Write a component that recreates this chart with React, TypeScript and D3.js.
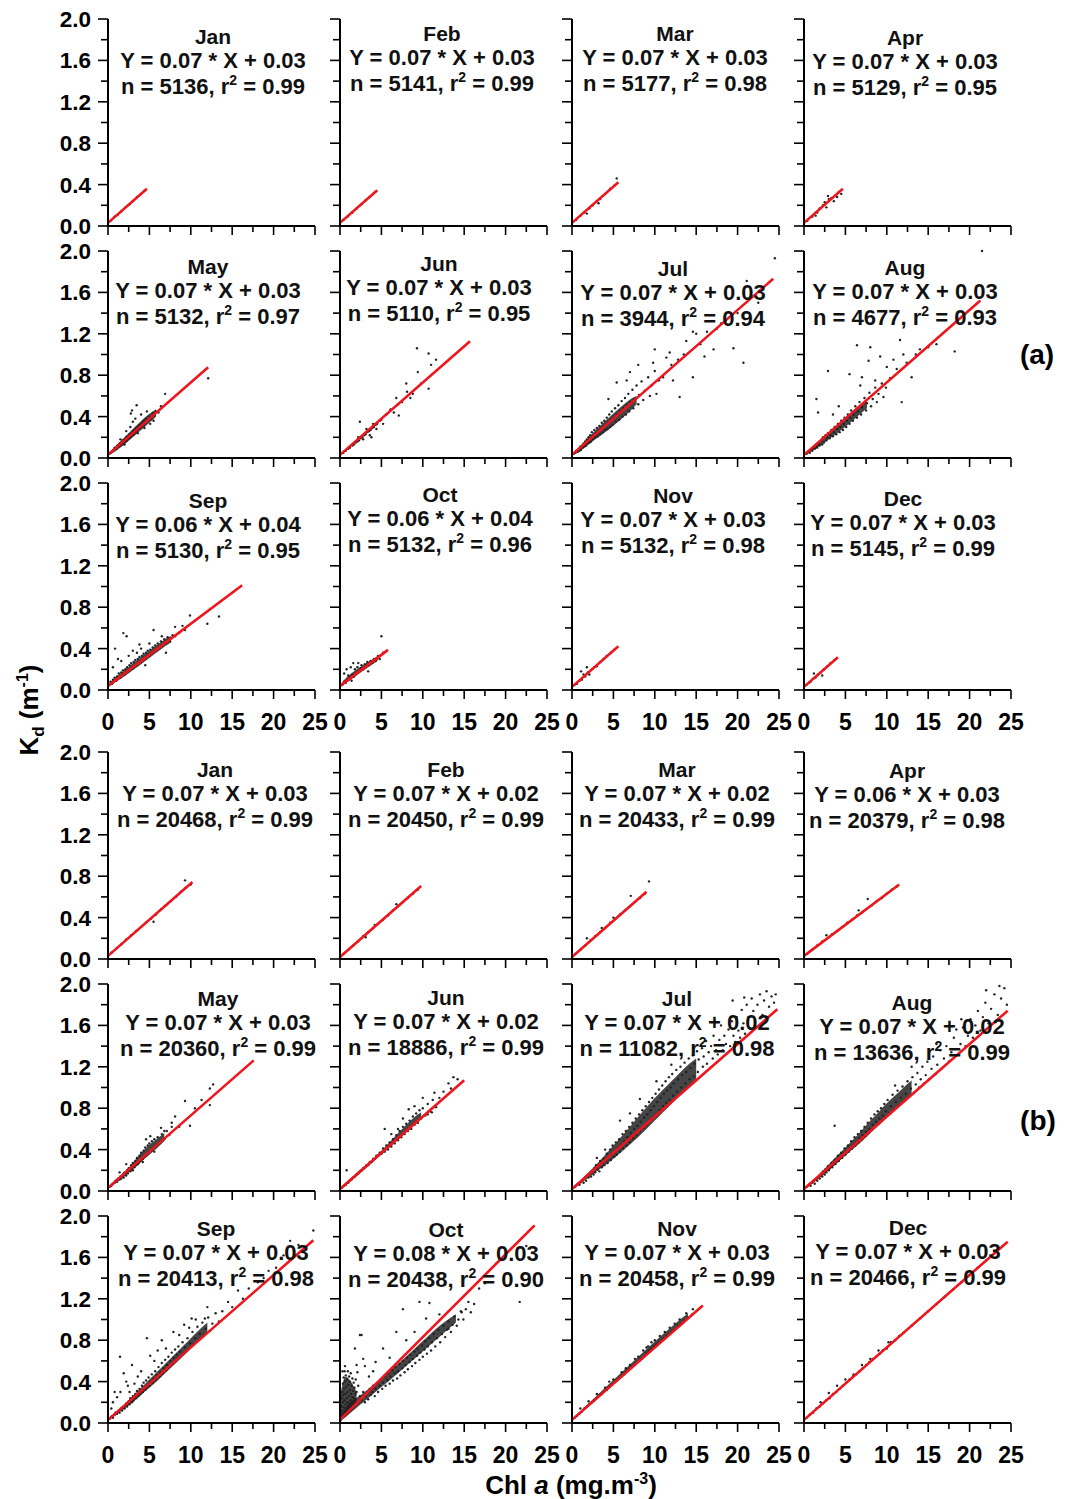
import React from "react";
import * as d3 from "d3";

// ---- regression summaries (group a: upper block, group b: lower block) ----
const months = ["Jan", "Feb", "Mar", "Apr", "May", "Jun", "Jul", "Aug", "Sep", "Oct", "Nov", "Dec"];

const slopeA = [0.07, 0.07, 0.07, 0.07, 0.07, 0.07, 0.07, 0.07, 0.06, 0.06, 0.07, 0.07];
const interceptA = [0.03, 0.03, 0.03, 0.03, 0.03, 0.03, 0.03, 0.03, 0.04, 0.04, 0.03, 0.03];
const countA = [5136, 5141, 5177, 5129, 5132, 5110, 3944, 4677, 5130, 5132, 5132, 5145];
const r2A = ["0.99", "0.99", "0.98", "0.95", "0.97", "0.95", "0.94", "0.93", "0.95", "0.96", "0.98", "0.99"];
const xMaxA = [4.7, 4.5, 5.6, 4.7, 12.1, 15.7, 24.3, 21.3, 16.2, 5.8, 5.6, 4.1];

const slopeB = [0.07, 0.07, 0.07, 0.06, 0.07, 0.07, 0.07, 0.07, 0.07, 0.08, 0.07, 0.07];
const interceptB = [0.03, 0.02, 0.02, 0.03, 0.03, 0.02, 0.02, 0.02, 0.03, 0.03, 0.03, 0.03];
const countB = [20468, 20450, 20433, 20379, 20360, 18886, 11082, 13636, 20413, 20438, 20458, 20466];
const r2B = ["0.99", "0.99", "0.99", "0.98", "0.99", "0.99", "0.98", "0.99", "0.98", "0.90", "0.99", "0.99"];
const xMaxB = [10.2, 9.8, 9.0, 11.5, 17.6, 15.0, 24.8, 24.6, 24.8, 23.5, 15.8, 24.6];

const xTicks = [0, 5, 10, 15, 20, 25];
const yTicks = [0, 0.4, 0.8, 1.2, 1.6, 2.0];

// ---- scatter points [Chl a, Kd] ----
const aJan = [[0.3,0.05],[0.8,0.09],[1.2,0.11],[1.6,0.14],[2.1,0.18],[2.6,0.21],[3.0,0.24],[3.5,0.28],[4.0,0.31],[4.4,0.34]];
const aFeb = [[0.4,0.06],[0.9,0.09],[1.5,0.13],[2.0,0.17],[2.6,0.21],[3.1,0.25],[3.6,0.28],[4.1,0.32]];
const aMar = [[0.5,0.06],[1.0,0.1],[1.5,0.13],[2.1,0.17],[2.5,0.2],[3.0,0.24],[3.4,0.26],[4.0,0.31],[4.6,0.36],[5.1,0.39],[5.4,0.46],[3.2,0.22],[1.8,0.12]];
const aApr = [[0.4,0.05],[1.0,0.09],[1.4,0.1],[1.9,0.17],[2.3,0.2],[2.7,0.18],[3.0,0.26],[3.3,0.27],[3.6,0.24],[2.9,0.29],[4.2,0.33],[4.5,0.31],[1.6,0.13],[2.5,0.23],[4.0,0.28]];
const aMay = [[0.3,0.05],[0.6,0.07],[0.8,0.1],[1.0,0.09],[1.1,0.12],[1.3,0.11],[1.4,0.14],[1.5,0.12],[1.6,0.15],[1.7,0.13],[1.8,0.17],[1.9,0.14],[2.0,0.18],[2.1,0.16],[2.2,0.2],[2.3,0.17],[2.4,0.21],[2.5,0.19],[2.6,0.23],[2.7,0.2],[2.8,0.24],[2.9,0.22],[3.0,0.26],[3.1,0.23],[3.2,0.27],[3.3,0.25],[3.4,0.29],[3.5,0.26],[3.6,0.3],[3.7,0.28],[3.8,0.32],[3.9,0.29],[4.0,0.33],[4.1,0.31],[4.2,0.35],[4.3,0.32],[4.4,0.36],[4.5,0.34],[4.6,0.38],[4.8,0.36],[5.0,0.4],[5.2,0.38],[5.4,0.43],[5.6,0.41],[5.8,0.45],[6.1,0.44],[1.5,0.18],[2.2,0.26],[2.7,0.3],[3.0,0.35],[3.46,0.51],[2.76,0.43],[2.9,0.46],[4.7,0.45],[5.5,0.36],[5.1,0.33],[6.9,0.62],[12.1,0.77],[3.3,0.38],[4.0,0.42],[6.4,0.5],[2.0,0.13],[3.6,0.24],[4.4,0.29]];
const aJun = [[0.4,0.05],[0.7,0.07],[1.0,0.09],[1.2,0.1],[1.5,0.12],[1.7,0.13],[1.9,0.15],[2.1,0.16],[2.3,0.17],[2.5,0.19],[2.7,0.2],[2.9,0.22],[3.1,0.23],[3.3,0.25],[3.5,0.26],[3.7,0.27],[3.9,0.29],[4.1,0.3],[4.3,0.32],[4.5,0.33],[4.8,0.36],[5.0,0.37],[2.2,0.2],[2.8,0.18],[3.2,0.28],[3.6,0.22],[4.0,0.33],[4.4,0.28],[2.4,0.35],[5.2,0.33],[5.6,0.42],[6.1,0.47],[6.5,0.44],[7.1,0.41],[7.0,0.52],[7.5,0.54],[8.1,0.64],[8.5,0.58],[8.8,0.62],[9.4,0.83],[9.3,1.06],[10.7,1.01],[10.7,0.67],[9.8,0.72],[11.0,0.9],[8.0,0.72],[6.8,0.58],[3.8,0.2],[11.6,0.95]];
const aJul = [[0.2,0.04],[0.4,0.05],[0.5,0.07],[0.7,0.06],[0.8,0.09],[0.9,0.07],[1.0,0.11],[1.1,0.08],[1.2,0.12],[1.3,0.1],[1.4,0.14],[1.5,0.11],[1.6,0.16],[1.7,0.12],[1.8,0.18],[1.9,0.14],[2.0,0.2],[2.1,0.15],[2.2,0.22],[2.3,0.16],[2.4,0.25],[2.5,0.18],[2.6,0.22],[2.7,0.27],[2.8,0.2],[2.9,0.24],[3.0,0.29],[3.1,0.21],[3.2,0.26],[3.3,0.31],[3.4,0.23],[3.5,0.28],[3.6,0.34],[3.7,0.25],[3.8,0.3],[3.9,0.36],[4.0,0.27],[4.1,0.32],[4.2,0.39],[4.3,0.28],[4.4,0.34],[4.5,0.42],[4.6,0.3],[4.7,0.37],[4.8,0.45],[4.9,0.32],[5.0,0.39],[5.2,0.48],[5.3,0.35],[5.4,0.42],[5.6,0.51],[5.7,0.37],[5.8,0.45],[6.0,0.55],[6.1,0.4],[6.2,0.48],[6.4,0.58],[6.5,0.42],[6.6,0.51],[6.8,0.62],[6.9,0.45],[7.0,0.54],[7.3,0.66],[7.4,0.48],[7.5,0.57],[7.8,0.7],[8.0,0.52],[8.1,0.61],[8.4,0.74],[8.6,0.56],[8.8,0.65],[9.2,0.78],[9.4,0.6],[9.6,0.7],[10.0,0.84],[10.2,0.62],[10.5,0.75],[10.0,1.05],[11.4,0.97],[12.2,0.75],[11.0,0.78],[13.0,0.59],[13.8,1.13],[14.6,1.22],[14.6,0.78],[16.3,1.22],[17.1,1.05],[19.5,1.06],[20.7,0.92],[21.1,1.71],[22.5,1.5],[24.5,1.93],[12.8,0.95],[15.5,1.1],[18.0,1.3],[16.0,0.98],[11.8,1.02],[9.8,0.92],[8.0,0.9],[5.4,0.73],[7.0,0.83],[6.6,0.75],[4.4,0.57],[12.0,0.9],[13.5,1.0],[15.0,1.2],[17.5,1.25],[20.0,1.4]];
const aAug = [[0.3,0.04],[0.5,0.06],[0.7,0.05],[0.9,0.08],[1.0,0.07],[1.2,0.1],[1.3,0.09],[1.5,0.12],[1.6,0.1],[1.8,0.14],[1.9,0.12],[2.1,0.17],[2.2,0.13],[2.3,0.2],[2.4,0.15],[2.6,0.22],[2.7,0.17],[2.8,0.2],[2.9,0.24],[3.1,0.19],[3.2,0.22],[3.3,0.27],[3.5,0.21],[3.6,0.25],[3.7,0.3],[3.9,0.23],[4.0,0.28],[4.1,0.33],[4.3,0.25],[4.4,0.3],[4.5,0.36],[4.7,0.27],[4.8,0.33],[4.9,0.39],[5.1,0.3],[5.2,0.36],[5.3,0.42],[5.5,0.33],[5.6,0.39],[5.7,0.46],[5.9,0.36],[6.0,0.42],[6.2,0.5],[6.4,0.39],[6.5,0.45],[6.7,0.54],[6.9,0.42],[7.0,0.49],[7.3,0.58],[7.5,0.46],[7.6,0.53],[7.9,0.63],[8.1,0.5],[8.3,0.57],[8.6,0.68],[8.8,0.54],[9.0,0.62],[9.4,0.72],[9.6,0.59],[9.9,0.68],[1.5,0.57],[1.7,0.44],[2.9,0.84],[5.5,0.81],[6.4,1.09],[7.8,0.94],[8.0,1.07],[9.2,0.98],[10.4,0.77],[10.0,0.88],[11.2,0.86],[11.6,1.14],[11.8,0.54],[12.4,0.92],[13.0,0.78],[13.5,1.0],[15.0,1.07],[16.0,1.1],[18.2,1.03],[21.5,2.0],[7.0,0.78],[10.8,0.95],[6.8,0.7],[8.6,0.75],[4.2,0.5],[3.5,0.42],[12.0,1.0],[14.0,1.05]];
const aSep = [[0.2,0.05],[0.3,0.08],[0.5,0.06],[0.6,0.1],[0.7,0.08],[0.8,0.12],[1.0,0.09],[1.1,0.13],[1.2,0.11],[1.3,0.16],[1.5,0.12],[1.6,0.17],[1.7,0.14],[1.8,0.19],[2.0,0.15],[2.1,0.2],[2.2,0.17],[2.3,0.22],[2.5,0.18],[2.6,0.24],[2.7,0.2],[2.8,0.26],[3.0,0.21],[3.1,0.27],[3.2,0.23],[3.3,0.29],[3.5,0.24],[3.6,0.3],[3.7,0.26],[3.8,0.32],[4.0,0.27],[4.1,0.33],[4.2,0.29],[4.3,0.35],[4.5,0.3],[4.6,0.36],[4.7,0.32],[4.8,0.38],[5.0,0.33],[5.1,0.39],[5.3,0.35],[5.4,0.41],[5.6,0.37],[5.7,0.43],[5.9,0.39],[6.0,0.45],[6.2,0.41],[6.4,0.47],[6.6,0.43],[6.8,0.49],[7.0,0.45],[7.2,0.51],[7.5,0.47],[7.8,0.53],[8.1,0.52],[0.85,0.4],[1.85,0.55],[2.25,0.52],[1.2,0.3],[2.5,0.33],[3.0,0.38],[3.5,0.36],[4.0,0.4],[4.5,0.24],[5.5,0.58],[5.0,0.45],[6.5,0.52],[7.0,0.36],[8.1,0.61],[9.3,0.58],[9.9,0.72],[9.0,0.62],[10.5,0.67],[12.0,0.64],[13.4,0.71],[8.6,0.55],[1.6,0.28],[0.6,0.22],[3.8,0.44]];
const aOct = [[0.3,0.05],[0.5,0.08],[0.7,0.07],[0.9,0.1],[1.0,0.14],[1.2,0.12],[1.4,0.09],[1.5,0.15],[1.7,0.13],[1.8,0.2],[2.0,0.16],[2.1,0.22],[2.3,0.18],[2.5,0.21],[2.6,0.24],[2.8,0.2],[3.0,0.25],[3.1,0.22],[3.3,0.27],[3.5,0.24],[3.7,0.28],[3.9,0.26],[4.1,0.3],[4.3,0.28],[4.6,0.33],[4.8,0.3],[5.2,0.36],[5.0,0.52],[0.8,0.2],[1.3,0.22],[2.2,0.26],[1.6,0.26],[0.5,0.16],[3.4,0.18]];
const aNov = [[0.3,0.05],[0.6,0.06],[0.9,0.09],[1.2,0.1],[1.4,0.15],[1.6,0.13],[1.9,0.17],[2.1,0.15],[2.4,0.2],[2.7,0.22],[3.0,0.23],[3.4,0.27],[3.8,0.3],[4.2,0.33],[4.7,0.36],[5.1,0.39],[1.1,0.18],[1.8,0.22]];
const aDec = [[0.3,0.05],[0.6,0.07],[0.8,0.08],[1.1,0.11],[1.4,0.12],[1.7,0.15],[2.0,0.17],[2.4,0.2],[2.8,0.23],[3.2,0.26],[3.7,0.29],[1.2,0.16],[2.2,0.14]];

const bJan = [[0.4,0.06],[1.0,0.1],[1.6,0.14],[2.2,0.19],[2.8,0.23],[3.4,0.27],[4.0,0.31],[4.6,0.35],[5.2,0.39],[5.8,0.43],[6.4,0.48],[7.0,0.52],[7.6,0.56],[8.2,0.6],[8.8,0.65],[9.4,0.69],[9.3,0.76],[10.0,0.72],[5.5,0.36]];
const bFeb = [[0.4,0.05],[1.0,0.09],[1.6,0.13],[2.2,0.17],[2.8,0.22],[3.4,0.26],[4.0,0.3],[4.6,0.34],[5.2,0.38],[5.8,0.42],[6.4,0.47],[7.0,0.51],[7.6,0.55],[8.2,0.59],[8.8,0.63],[9.4,0.67],[6.8,0.53],[4.2,0.33],[3.1,0.21]];
const bMar = [[0.4,0.05],[1.0,0.09],[1.6,0.13],[2.2,0.18],[2.8,0.22],[3.4,0.26],[4.0,0.3],[4.6,0.35],[5.2,0.39],[5.8,0.43],[6.4,0.47],[7.0,0.51],[7.6,0.55],[8.2,0.59],[8.8,0.63],[9.3,0.75],[7.1,0.61],[1.8,0.2],[3.6,0.3],[5.0,0.4]];
const bApr = [[0.4,0.05],[1.0,0.09],[1.6,0.13],[2.2,0.17],[2.7,0.23],[3.4,0.24],[4.0,0.27],[4.6,0.31],[5.2,0.35],[5.8,0.38],[6.4,0.42],[7.0,0.45],[7.7,0.58],[8.2,0.52],[8.8,0.56],[9.4,0.59],[10.0,0.63],[10.6,0.67],[11.2,0.7],[6.6,0.47]];
const bMay = [[0.2,0.04],[0.4,0.05],[0.6,0.07],[0.8,0.08],[0.9,0.1],[1.1,0.09],[1.2,0.12],[1.4,0.11],[1.5,0.14],[1.6,0.12],[1.8,0.16],[1.9,0.13],[2.0,0.18],[2.2,0.15],[2.3,0.2],[2.4,0.17],[2.5,0.22],[2.7,0.19],[2.8,0.25],[2.9,0.21],[3.0,0.27],[3.2,0.23],[3.3,0.29],[3.4,0.25],[3.5,0.32],[3.7,0.27],[3.8,0.34],[3.9,0.29],[4.0,0.37],[4.2,0.31],[4.3,0.39],[4.4,0.33],[4.5,0.42],[4.7,0.35],[4.8,0.44],[4.9,0.37],[5.0,0.46],[5.2,0.39],[5.3,0.48],[5.4,0.41],[5.6,0.5],[5.8,0.43],[6.0,0.52],[6.2,0.46],[6.5,0.55],[6.8,0.5],[7.1,0.58],[7.4,0.54],[7.7,0.62],[3.0,0.2],[3.6,0.26],[4.2,0.28],[4.6,0.5],[5.1,0.53],[6.4,0.61],[7.7,0.66],[8.1,0.72],[9.3,0.87],[9.9,0.63],[10.5,0.8],[11.3,0.88],[12.3,0.99],[12.3,0.83],[12.7,1.03],[8.6,0.62],[2.2,0.26],[1.4,0.18],[5.6,0.38],[6.8,0.58]];
const bJun = [[0.2,0.03],[0.5,0.05],[0.7,0.06],[0.8,0.2],[1.0,0.08],[1.2,0.1],[1.4,0.11],[1.6,0.13],[1.8,0.14],[2.0,0.16],[2.2,0.17],[2.4,0.19],[2.6,0.2],[2.8,0.22],[3.0,0.23],[3.2,0.25],[3.4,0.25],[3.6,0.28],[3.8,0.28],[4.0,0.31],[4.2,0.31],[4.4,0.34],[4.6,0.34],[4.8,0.37],[5.0,0.36],[5.2,0.41],[5.4,0.38],[5.6,0.44],[5.8,0.4],[6.0,0.47],[6.2,0.43],[6.4,0.5],[6.6,0.46],[6.8,0.54],[7.0,0.49],[7.2,0.58],[7.4,0.52],[7.6,0.62],[7.8,0.55],[8.0,0.65],[8.2,0.58],[8.4,0.68],[8.6,0.6],[8.8,0.72],[9.0,0.64],[9.2,0.75],[9.4,0.66],[9.6,0.78],[9.8,0.7],[10.0,0.8],[10.3,0.73],[10.6,0.84],[10.9,0.77],[11.2,0.88],[11.6,0.81],[12.0,0.9],[5.4,0.6],[7.6,0.7],[8.3,0.79],[9.0,0.82],[10.0,0.9],[10.6,0.74],[11.1,0.76],[11.4,0.95],[12.5,0.96],[13.1,1.04],[13.7,1.1],[14.2,1.08],[13.4,0.99],[6.2,0.55],[7.0,0.6]];
const bJul = [[0.4,0.04],[0.7,0.07],[0.9,0.06],[1.1,0.09],[1.3,0.11],[1.4,0.08],[1.6,0.13],[1.7,0.1],[1.9,0.15],[2.0,0.13],[2.2,0.17],[2.3,0.14],[2.4,0.19],[2.6,0.16],[2.7,0.22],[2.8,0.18],[2.9,0.25],[3.1,0.21],[3.2,0.24],[3.3,0.19],[3.4,0.29],[3.6,0.23],[3.7,0.27],[3.8,0.31],[3.9,0.25],[4.1,0.3],[4.2,0.36],[4.3,0.27],[4.4,0.33],[4.6,0.4],[4.7,0.3],[4.8,0.35],[4.9,0.44],[5.1,0.33],[5.2,0.38],[5.3,0.47],[5.4,0.35],[5.6,0.42],[5.7,0.5],[5.8,0.38],[6.0,0.45],[6.1,0.55],[6.2,0.41],[6.3,0.48],[6.5,0.58],[6.6,0.44],[6.7,0.52],[6.9,0.62],[7.0,0.47],[7.1,0.56],[7.3,0.66],[7.4,0.51],[7.5,0.6],[7.7,0.7],[7.8,0.54],[7.9,0.63],[8.1,0.74],[8.2,0.58],[8.3,0.67],[8.5,0.78],[8.6,0.61],[8.7,0.71],[8.9,0.82],[9.0,0.64],[9.1,0.74],[9.3,0.86],[9.4,0.68],[9.5,0.78],[9.7,0.9],[9.8,0.71],[9.9,0.82],[10.1,0.94],[10.2,0.74],[10.3,0.86],[10.5,0.98],[10.6,0.78],[10.7,0.9],[10.9,1.02],[11.0,0.82],[11.1,0.94],[11.3,1.06],[11.4,0.85],[11.5,0.97],[11.7,1.1],[11.8,0.88],[11.9,1.0],[12.1,1.13],[12.2,0.92],[12.3,1.04],[12.6,1.17],[12.7,0.96],[12.8,1.08],[13.1,1.2],[13.2,1.0],[13.3,1.12],[13.6,1.24],[13.7,1.04],[13.8,1.15],[14.1,1.28],[14.2,1.08],[14.3,1.19],[14.6,1.31],[14.7,1.11],[14.8,1.23],[15.1,1.35],[15.2,1.15],[15.3,1.27],[15.7,1.38],[15.8,1.2],[15.9,1.3],[16.2,1.45],[16.3,1.23],[16.5,1.34],[16.8,1.4],[17.0,1.28],[17.1,1.5],[17.4,1.36],[17.6,1.32],[17.8,1.46],[18.0,1.6],[18.2,1.36],[18.4,1.5],[18.6,1.42],[18.9,1.56],[19.1,1.4],[19.3,1.64],[19.5,1.5],[19.7,1.44],[19.9,1.68],[20.1,1.55],[20.3,1.48],[20.5,1.75],[20.7,1.62],[20.9,1.52],[21.1,1.8],[21.3,1.68],[21.5,1.57],[21.7,1.86],[21.9,1.74],[22.1,1.6],[22.4,1.8],[22.7,1.9],[23.0,1.7],[23.2,1.84],[23.5,1.93],[23.8,1.78],[24.1,1.88],[24.4,1.82],[24.6,1.9],[5.8,0.68],[8.2,0.89],[10.2,1.06],[19.4,1.84],[20.8,1.87],[7.0,0.75],[12.0,1.22],[3.0,0.32],[4.0,0.4]];
const bAug = [[0.3,0.04],[0.6,0.06],[0.8,0.05],[1.0,0.08],[1.2,0.1],[1.3,0.07],[1.5,0.12],[1.6,0.1],[1.8,0.14],[1.9,0.12],[2.1,0.17],[2.2,0.14],[2.3,0.19],[2.5,0.16],[2.6,0.21],[2.7,0.18],[2.9,0.24],[3.0,0.2],[3.1,0.22],[3.3,0.27],[3.4,0.23],[3.5,0.25],[3.7,0.3],[3.8,0.26],[3.9,0.28],[4.1,0.34],[4.2,0.29],[4.3,0.31],[4.5,0.37],[4.6,0.32],[4.7,0.35],[4.9,0.41],[5.0,0.35],[5.1,0.38],[5.3,0.44],[5.4,0.38],[5.5,0.41],[5.7,0.48],[5.8,0.41],[5.9,0.44],[6.1,0.52],[6.2,0.44],[6.3,0.47],[6.5,0.55],[6.6,0.47],[6.7,0.51],[6.9,0.58],[7.0,0.5],[7.1,0.54],[7.3,0.62],[7.4,0.53],[7.5,0.57],[7.7,0.66],[7.8,0.56],[7.9,0.6],[8.1,0.7],[8.2,0.59],[8.3,0.64],[8.5,0.74],[8.6,0.62],[8.7,0.67],[8.9,0.77],[9.0,0.65],[9.1,0.7],[9.3,0.8],[9.4,0.68],[9.5,0.73],[9.7,0.84],[9.8,0.71],[9.9,0.77],[10.1,0.88],[10.3,0.75],[10.5,0.82],[10.7,0.93],[10.9,0.79],[11.1,0.86],[11.3,0.97],[11.5,0.83],[11.7,0.9],[11.9,1.01],[12.1,0.87],[12.3,0.94],[12.5,1.06],[12.7,0.91],[12.9,0.99],[13.1,1.1],[13.3,0.95],[13.5,1.03],[13.7,1.14],[13.9,1.0],[14.1,1.08],[14.3,1.2],[14.5,1.04],[14.7,1.12],[14.9,1.25],[15.1,1.08],[15.4,1.18],[15.6,1.3],[15.9,1.13],[16.1,1.22],[16.4,1.36],[16.6,1.18],[16.9,1.28],[17.2,1.4],[17.5,1.25],[17.8,1.34],[18.1,1.48],[18.4,1.56],[18.6,1.32],[18.9,1.42],[19.2,1.58],[19.5,1.4],[19.8,1.5],[20.1,1.66],[20.4,1.48],[20.7,1.6],[21.0,1.74],[21.3,1.55],[21.6,1.68],[21.9,1.82],[22.3,1.62],[22.6,1.76],[23.0,1.9],[23.4,1.7],[23.8,1.86],[24.2,1.96],[24.5,1.8],[22.0,1.94],[23.6,1.98],[3.7,0.63],[11.0,1.02],[13.0,1.2],[16.0,1.42],[19.0,1.66]];
const bSep = [[0.2,0.04],[0.4,0.06],[0.6,0.05],[0.8,0.08],[0.9,0.1],[1.1,0.09],[1.3,0.12],[1.4,0.1],[1.6,0.14],[1.7,0.12],[1.9,0.16],[2.0,0.14],[2.2,0.19],[2.3,0.16],[2.5,0.21],[2.6,0.18],[2.7,0.24],[2.9,0.2],[3.0,0.26],[3.1,0.22],[3.3,0.28],[3.4,0.24],[3.5,0.31],[3.7,0.26],[3.8,0.33],[3.9,0.28],[4.1,0.36],[4.2,0.3],[4.3,0.39],[4.5,0.32],[4.6,0.41],[4.7,0.34],[4.9,0.44],[5.0,0.36],[5.1,0.4],[5.3,0.47],[5.4,0.39],[5.5,0.43],[5.7,0.5],[5.8,0.42],[5.9,0.46],[6.1,0.54],[6.2,0.45],[6.3,0.49],[6.5,0.58],[6.6,0.48],[6.7,0.53],[6.9,0.61],[7.0,0.51],[7.1,0.56],[7.3,0.64],[7.4,0.54],[7.5,0.6],[7.7,0.68],[7.8,0.57],[7.9,0.63],[8.1,0.71],[8.2,0.6],[8.3,0.66],[8.5,0.74],[8.6,0.63],[8.7,0.69],[9.0,0.78],[9.1,0.67],[9.3,0.73],[9.6,0.82],[9.7,0.71],[9.9,0.77],[10.2,0.88],[10.3,0.76],[10.5,0.82],[10.8,0.93],[10.9,0.8],[11.1,0.86],[11.4,0.97],[11.6,0.85],[11.8,0.91],[12.1,1.02],[12.3,0.89],[12.6,0.96],[13.0,1.06],[13.4,0.98],[13.8,1.08],[14.5,1.17],[15.0,1.12],[15.7,1.28],[16.3,1.2],[17.0,1.3],[18.1,1.36],[18.8,1.4],[19.4,1.47],[20.3,1.5],[21.2,1.62],[22.0,1.76],[23.0,1.72],[24.8,1.86],[1.45,0.64],[4.7,0.82],[6.5,0.8],[2.9,0.56],[1.9,0.48],[1.1,0.25],[5.1,0.65],[7.9,0.88],[10.1,1.01],[11.7,1.01],[0.6,0.2],[2.4,0.36],[3.6,0.45],[1.5,0.3],[2.2,0.4],[3.2,0.38],[4.0,0.5],[5.6,0.6],[6.0,0.7],[7.0,0.72],[8.6,0.85],[9.2,0.95],[9.8,0.92],[10.6,1.0],[12.0,1.12],[0.8,0.3],[0.4,0.14],[2.6,0.3]];
const bOct = [[0.1,0.03],[0.15,0.1],[0.2,0.06],[0.2,0.16],[0.25,0.24],[0.3,0.12],[0.3,0.3],[0.35,0.2],[0.35,0.38],[0.4,0.08],[0.4,0.27],[0.45,0.44],[0.5,0.15],[0.5,0.33],[0.55,0.22],[0.55,0.5],[0.6,0.1],[0.6,0.4],[0.65,0.28],[0.7,0.18],[0.7,0.46],[0.75,0.35],[0.8,0.12],[0.8,0.24],[0.85,0.42],[0.9,0.3],[0.9,0.2],[0.95,0.5],[1.0,0.14],[1.0,0.37],[1.05,0.26],[1.1,0.45],[1.15,0.18],[1.2,0.32],[1.2,0.4],[1.25,0.22],[1.3,0.48],[1.35,0.28],[1.4,0.16],[1.4,0.36],[1.5,0.25],[1.5,0.43],[1.55,0.2],[1.6,0.31],[1.65,0.39],[1.7,0.24],[1.75,0.34],[1.8,0.72],[1.85,0.28],[1.9,0.42],[2.0,0.56],[2.0,0.3],[2.1,0.49],[2.2,0.36],[2.4,0.85],[2.6,0.85],[0.3,0.5],[0.6,0.55],[2.2,0.2],[2.4,0.26],[2.6,0.22],[2.8,0.3],[3.0,0.2],[3.1,0.26],[3.3,0.3],[3.4,0.23],[3.6,0.33],[3.7,0.27],[3.9,0.3],[4.0,0.36],[4.2,0.26],[4.3,0.33],[4.5,0.39],[4.6,0.3],[4.8,0.36],[4.9,0.42],[5.1,0.33],[5.2,0.39],[5.4,0.45],[5.5,0.36],[5.7,0.42],[5.8,0.48],[6.0,0.38],[6.1,0.45],[6.3,0.51],[6.4,0.41],[6.6,0.48],[6.7,0.54],[6.9,0.43],[7.0,0.5],[7.2,0.57],[7.3,0.46],[7.5,0.53],[7.6,0.6],[7.8,0.49],[7.9,0.56],[8.1,0.63],[8.2,0.52],[8.4,0.59],[8.5,0.66],[8.7,0.55],[8.8,0.62],[9.0,0.69],[9.1,0.58],[9.3,0.65],[9.4,0.72],[9.6,0.61],[9.7,0.68],[9.9,0.75],[10.0,0.64],[10.2,0.71],[10.3,0.79],[10.5,0.67],[10.6,0.74],[10.8,0.82],[11.0,0.7],[11.1,0.78],[11.3,0.86],[11.5,0.74],[11.7,0.82],[11.9,0.9],[12.1,0.78],[12.3,0.86],[12.5,0.94],[12.7,0.83],[12.9,0.9],[13.1,0.98],[13.4,0.88],[13.6,0.95],[13.8,1.03],[14.1,0.94],[14.3,1.0],[14.6,1.08],[14.9,1.0],[15.2,1.1],[15.5,1.17],[15.8,1.07],[16.2,1.15],[7.6,1.1],[9.6,1.17],[10.8,1.16],[10.4,1.01],[6.8,0.88],[5.2,0.72],[4.3,0.59],[13.1,0.91],[14.7,1.07],[21.7,1.17],[22.5,1.71],[3.5,0.45],[6.0,0.63],[8.0,0.8],[9.0,0.88],[12.0,1.05],[16.8,1.3],[17.5,1.35],[3.0,0.55],[4.0,0.5],[2.8,0.62]];
const bNov = [[0.3,0.05],[0.6,0.07],[0.9,0.09],[1.2,0.11],[1.5,0.14],[1.8,0.16],[2.1,0.18],[2.4,0.2],[2.7,0.22],[3.0,0.24],[3.3,0.27],[3.6,0.28],[3.9,0.31],[4.2,0.32],[4.5,0.35],[4.8,0.37],[5.1,0.39],[5.4,0.41],[5.7,0.43],[6.0,0.45],[6.3,0.47],[6.6,0.5],[6.9,0.52],[7.2,0.54],[7.5,0.56],[7.8,0.58],[8.1,0.6],[8.4,0.62],[8.7,0.64],[9.0,0.68],[9.3,0.7],[9.6,0.72],[9.9,0.74],[10.2,0.76],[10.5,0.78],[10.8,0.8],[11.1,0.82],[11.4,0.84],[11.7,0.86],[12.0,0.88],[12.4,0.9],[12.8,0.94],[13.2,0.96],[13.6,0.99],[14.0,1.02],[14.5,1.05],[1.0,0.14],[2.0,0.21],[3.0,0.28],[4.0,0.34],[5.0,0.42],[6.0,0.49],[7.0,0.56],[8.0,0.64],[8.6,0.7],[9.2,0.74],[9.6,0.78],[10.0,0.8],[10.6,0.84],[11.2,0.88],[11.8,0.92],[12.4,0.96],[13.0,1.0],[13.8,1.06],[14.6,1.1],[4.5,0.4],[6.5,0.53],[7.6,0.62],[9.0,0.73]];
const bDec = [[0.3,0.05],[0.7,0.08],[1.1,0.1],[1.5,0.14],[1.9,0.16],[2.3,0.19],[2.7,0.22],[3.1,0.24],[3.5,0.28],[3.9,0.3],[4.3,0.33],[4.7,0.36],[5.1,0.39],[5.5,0.42],[5.9,0.45],[6.3,0.47],[6.7,0.5],[7.1,0.53],[7.5,0.56],[7.9,0.59],[8.3,0.62],[8.7,0.64],[9.1,0.67],[9.5,0.7],[10.0,0.72],[10.5,0.78],[11.0,0.8],[11.5,0.84],[12.0,0.87],[13.0,0.94],[14.0,1.01],[15.0,1.08],[16.0,1.15],[17.0,1.22],[18.0,1.29],[19.0,1.36],[20.0,1.43],[21.0,1.5],[22.0,1.57],[23.0,1.64],[24.0,1.71],[3.0,0.29],[5.0,0.42],[7.0,0.56],[9.0,0.7],[2.0,0.2],[4.0,0.36],[6.0,0.47],[8.0,0.62],[10.2,0.78]];

const pointsA = [aJan, aFeb, aMar, aApr, aMay, aJun, aJul, aAug, aSep, aOct, aNov, aDec];
const pointsB = [bJan, bFeb, bMar, bApr, bMay, bJun, bJul, bAug, bSep, bOct, bNov, bDec];

// ---- dense cores of the point clouds [Chl a, Kd low, Kd high] ----
const coreAMay = [[0.2,0.03,0.06],[1,0.07,0.12],[2,0.13,0.2],[3,0.2,0.28],[4,0.27,0.36],[5,0.34,0.43],[5.8,0.4,0.47]];
const coreAJul = [[0.2,0.03,0.05],[1,0.07,0.11],[2,0.13,0.2],[3,0.19,0.28],[4,0.25,0.36],[5,0.31,0.43],[6,0.38,0.5],[7,0.45,0.57],[7.8,0.52,0.6]];
const coreAAug = [[0.3,0.03,0.06],[1,0.07,0.1],[2,0.12,0.18],[3,0.18,0.25],[4,0.24,0.32],[5,0.3,0.39],[6,0.37,0.46],[7,0.44,0.53],[7.6,0.48,0.56]];
const coreASep = [[0.2,0.04,0.07],[1,0.08,0.13],[2,0.13,0.19],[3,0.19,0.26],[4,0.25,0.32],[5,0.31,0.38],[6,0.37,0.44],[7,0.43,0.5],[7.6,0.46,0.52]];
const coreAOct = [[0.3,0.05,0.08],[1,0.08,0.14],[2,0.14,0.2],[3,0.2,0.25],[4,0.25,0.3],[4.6,0.29,0.33]];
const coreBMay = [[0.2,0.03,0.05],[1,0.08,0.11],[2,0.14,0.18],[3,0.21,0.27],[4,0.28,0.37],[5,0.35,0.45],[6,0.42,0.51],[6.8,0.48,0.56]];
const coreBJun = [[0.2,0.02,0.04],[1,0.08,0.1],[2,0.14,0.17],[3,0.21,0.24],[4,0.28,0.31],[5,0.35,0.39],[6,0.42,0.47],[7,0.49,0.56],[8,0.57,0.64],[9,0.64,0.72],[9.8,0.7,0.76]];
const coreBJul = [[0.3,0.03,0.05],[1,0.07,0.1],[2,0.13,0.18],[3,0.19,0.26],[4,0.25,0.35],[5,0.31,0.44],[6,0.38,0.53],[7,0.45,0.62],[8,0.52,0.72],[9,0.6,0.81],[10,0.68,0.9],[11,0.76,0.98],[12,0.84,1.06],[13,0.92,1.14],[14,1.0,1.22],[15,1.08,1.28]];
const coreBAug = [[0.3,0.03,0.05],[1,0.07,0.1],[2,0.13,0.17],[3,0.2,0.26],[4,0.27,0.34],[5,0.34,0.42],[6,0.41,0.5],[7,0.48,0.59],[8,0.56,0.68],[9,0.63,0.76],[10,0.71,0.85],[11,0.78,0.92],[12,0.86,1.0],[13,0.93,1.07]];
const coreBSep = [[0.2,0.03,0.05],[1,0.08,0.11],[2,0.14,0.18],[3,0.2,0.26],[4,0.27,0.34],[5,0.34,0.42],[6,0.41,0.5],[7,0.49,0.58],[8,0.56,0.66],[9,0.64,0.74],[10,0.72,0.82],[11,0.8,0.9],[12,0.87,0.97]];
const coreBOct = [[0.1,0.02,0.06],[1,0.08,0.2],[2,0.15,0.24],[3,0.21,0.3],[4,0.28,0.37],[5,0.35,0.43],[6,0.41,0.5],[7,0.48,0.57],[8,0.55,0.64],[9,0.62,0.72],[10,0.69,0.79],[11,0.76,0.87],[12,0.83,0.94],[13,0.9,1.0],[14,0.97,1.05]];
const coreBOctLow = [[0.1,0.03,0.3],[0.5,0.05,0.46],[1.0,0.08,0.44],[1.5,0.13,0.38],[2.0,0.18,0.3]];
const coreBNov = [[0.3,0.04,0.06],[2,0.16,0.19],[4,0.3,0.34],[6,0.44,0.49],[8,0.58,0.64],[10,0.72,0.79],[12,0.86,0.93],[14,1.0,1.06]];

const coresA = [[], [], [], [], [coreAMay], [], [coreAJul], [coreAAug], [coreASep], [coreAOct], [], []];
const coresB = [[], [], [], [], [coreBMay], [coreBJun], [coreBJul], [coreBAug], [coreBSep], [coreBOct, coreBOctLow], [coreBNov], []];

// ---- layout ----
const W = 1075;
const H = 1499;
const PW = 207;
const PH = 207;
const colLeft = [108, 340, 572, 804];
const rowTopA = [19, 251, 483];
const rowTopB = [752, 984, 1216];
// annotation block anchor [dx from panel left, dy from panel top]
const annotA = [[105, 17], [102, 14], [103, 14], [101, 18], [100, 15], [99, 12], [101, 17], [101, 16], [100, 17], [100, 11], [101, 12], [99, 15]];
const annotB = [[107, 17], [106, 17], [105, 17], [103, 18], [110, 14], [106, 13], [105, 14], [108, 18], [108, 12], [106, 13], [105, 12], [104, 11]];

const FONT = "'Liberation Sans', Arial, Helvetica, sans-serif";
const RED = "#f0141c";

type PanelProps = {
  left: number;
  top: number;
  pts: number[][];
  cores: number[][][];
  slope: number;
  icpt: number;
  xMax: number;
  month: string;
  n: number;
  r2: string;
  showYLabels: boolean;
  showXLabels: boolean;
  annot: number[];
};

function Panel(p: PanelProps) {
  const x = d3.scaleLinear().domain([0, 25]).range([p.left, p.left + PW]);
  const y = d3.scaleLinear().domain([0, 2]).range([p.top + PH, p.top]);
  const xMinor = d3.range(0, 25.01, 2.5);
  const yMinor = d3.range(0, 2.001, 0.2);
  const fit = d3
    .line<number>()
    .x((v) => x(v))
    .y((v) => y(p.slope * v + p.icpt));
  const band = d3
    .area<number[]>()
    .x((d) => x(d[0]))
    .y0((d) => y(d[1]))
    .y1((d) => y(d[2]))
    .curve(d3.curveBasis);
  const y0 = y(0);
  const cx = p.left + p.annot[0];
  const base = p.top + p.annot[1] + 7.5;
  return (
    <g>
      {/* dense part of the cloud */}
      {p.cores.map((c, i) => (
        <path key={"c" + i} d={band(c) || ""} fill="#1c1c1c" fillOpacity={0.82} />
      ))}
      {/* scatter */}
      <g fill="#222">
        {p.pts.map((d, i) => (
          <circle key={i} cx={x(d[0])} cy={y(d[1])} r={1.2} />
        ))}
      </g>
      {/* regression line */}
      <path d={fit([0, p.xMax]) || ""} stroke={RED} strokeWidth={2.6} fill="none" />
      {/* axes */}
      <g stroke="#000" fill="none">
        <line x1={x(0)} x2={x(0)} y1={y(0)} y2={y(2)} strokeWidth={2} />
        <line x1={x(0)} x2={x(25)} y1={y0} y2={y0} strokeWidth={2} />
        {yMinor.map((v, i) => (
          <line key={"y" + i} x1={x(0) - (i % 2 === 0 ? 10 : 7)} x2={x(0)} y1={y(v)} y2={y(v)} strokeWidth={1.6} />
        ))}
        {xMinor.map((v, i) => (
          <line key={"x" + i} x1={x(v)} x2={x(v)} y1={y0} y2={y0 + (i % 2 === 0 ? 9 : 6)} strokeWidth={1.6} />
        ))}
      </g>
      {p.showYLabels &&
        yTicks.map((v) => (
          <text key={"yl" + v} x={x(0) - 17} y={y(v) + 8} textAnchor="end" fontSize={22.5} fontWeight="bold" fontFamily={FONT}>
            {v.toFixed(1)}
          </text>
        ))}
      {p.showXLabels &&
        xTicks.map((v) => (
          <text key={"xl" + v} x={x(v)} y={y0 + 40} textAnchor="middle" fontSize={23} fontWeight="bold" fontFamily={FONT}>
            {v}
          </text>
        ))}
      {/* annotation */}
      <g fontFamily={FONT} fontWeight="bold" textAnchor="middle" fill="#111">
        <text x={cx} y={base} fontSize={21}>{p.month}</text>
        <text x={cx} y={base + 24.5} fontSize={22}>
          {`Y = ${p.slope.toFixed(2)} * X + ${p.icpt.toFixed(2)}`}
        </text>
        <text x={cx} y={base + 50.5} fontSize={22}>
          {`n = ${p.n}, r`}
          <tspan fontSize={14} dy={-9}>2</tspan>
          <tspan dy={9}>{` = ${p.r2}`}</tspan>
        </text>
      </g>
    </g>
  );
}

export default function App() {
  const panels: React.ReactNode[] = [];
  const groups = [
    { tops: rowTopA, pts: pointsA, cores: coresA, slope: slopeA, icpt: interceptA, n: countA, r2: r2A, xMax: xMaxA, annot: annotA, key: "a" },
    { tops: rowTopB, pts: pointsB, cores: coresB, slope: slopeB, icpt: interceptB, n: countB, r2: r2B, xMax: xMaxB, annot: annotB, key: "b" },
  ];
  groups.forEach((g) => {
    months.forEach((m, i) => {
      const row = Math.floor(i / 4);
      const col = i % 4;
      panels.push(
        <Panel
          key={g.key + m}
          left={colLeft[col]}
          top={g.tops[row]}
          pts={g.pts[i]}
          cores={g.cores[i]}
          slope={g.slope[i]}
          icpt={g.icpt[i]}
          xMax={g.xMax[i]}
          month={m}
          n={g.n[i]}
          r2={g.r2[i]}
          showYLabels={col === 0}
          showXLabels={row === 2}
          annot={g.annot[i]}
        />
      );
    });
  });

  return (
    <svg
      width={W}
      height={H}
      viewBox={`0 0 ${W} ${H}`}
      style={{ position: "absolute", left: 0, top: 0, background: "#fff" }}
    >
      <rect width={W} height={H} fill="#fff" />
      {panels}
      {/* group tags */}
      <text x={1037} y={364} textAnchor="middle" fontSize={28} fontWeight="bold" fontFamily={FONT}>(a)</text>
      <text x={1038} y={1130} textAnchor="middle" fontSize={28} fontWeight="bold" fontFamily={FONT}>(b)</text>
      {/* axis titles */}
      <text
        transform="translate(38,710) rotate(-90)"
        textAnchor="middle"
        fontSize={26}
        fontWeight="bold"
        fontFamily={FONT}
      >
        K<tspan fontSize={17} dy={6}>d</tspan>
        <tspan dy={-6}> (m</tspan>
        <tspan fontSize={16} dy={-10}>-1</tspan>
        <tspan dy={10}>)</tspan>
      </text>
      <text x={571} y={1494} textAnchor="middle" fontSize={26} fontWeight="bold" fontFamily={FONT}>
        Chl <tspan fontStyle="italic">a</tspan> (mg.m
        <tspan fontSize={16} dy={-10}>-3</tspan>
        <tspan dy={10}>)</tspan>
      </text>
    </svg>
  );
}
